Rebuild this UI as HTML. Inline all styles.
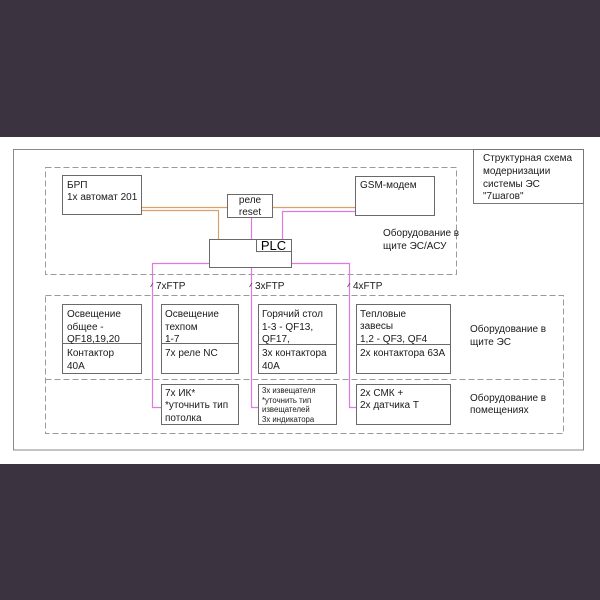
<!DOCTYPE html>
<html><head><meta charset="utf-8"><style>
html,body{margin:0;padding:0;background:#3b3340;}
svg{display:block;}
text{font-family:"Liberation Sans",Arial,sans-serif;fill:#1a1a1a;font-size:10px;}
.s{font-size:7.8px;}
</style></head><body>
<svg width="600" height="600" viewBox="0 0 600 600" xmlns="http://www.w3.org/2000/svg">
<rect x="0" y="0" width="600" height="600" fill="#3b3340"/>
<rect x="0" y="137" width="600" height="327" fill="#ffffff"/>
<!-- outer frame -->
<rect x="13.5" y="149.5" width="570" height="300.5" fill="none" stroke="#8a8a8a" stroke-width="1"/>
<rect x="473.5" y="149.5" width="110" height="54" fill="none" stroke="#777" stroke-width="1"/>
<!-- dashed regions -->
<g fill="none" stroke="#9a9a9a" stroke-width="1" stroke-dasharray="6,3">
<rect x="45.5" y="167.5" width="411" height="107"/>
<rect x="45.5" y="295.5" width="518" height="138"/>
<line x1="45.5" y1="379.5" x2="563.5" y2="379.5"/>
</g>
<!-- connectors orange -->
<g fill="none" stroke="#d9a06a" stroke-width="1.2">
<line x1="142" y1="207.5" x2="227" y2="207.5"/>
<polyline points="142,210.5 218.5,210.5 218.5,239"/>
<line x1="272" y1="207.5" x2="355" y2="207.5"/>
</g>
<!-- connectors pink -->
<g fill="none" stroke="#e07ae0" stroke-width="1.2">
<line x1="251.5" y1="217" x2="251.5" y2="239"/>
<polyline points="355,211.5 282.5,211.5 282.5,239"/>
<polyline points="209,263.5 152.5,263.5 152.5,407.5 161,407.5"/>
<polyline points="251.5,267 251.5,407.5 258,407.5"/>
<polyline points="291,263.5 349.5,263.5 349.5,407.5 356,407.5"/>
</g>
<!-- ticks -->
<g stroke="#555" stroke-width="0.8">
<line x1="150.5" y1="287" x2="153" y2="283"/>
<line x1="249.5" y1="287" x2="252" y2="283"/>
<line x1="347.5" y1="287" x2="350" y2="283"/>
</g>
<!-- boxes -->
<g fill="#fff" stroke="#6a6a6a" stroke-width="1">
<rect x="62.5" y="175.5" width="79" height="39"/>
<rect x="355.5" y="176.5" width="79" height="39"/>
<rect x="227.5" y="194.5" width="45" height="23"/>
<rect x="209.5" y="239.5" width="82" height="28"/>
<rect x="256.5" y="239.5" width="35" height="12"/>
<rect x="62.5" y="304.5" width="79" height="69"/>
<rect x="161.5" y="304.5" width="77" height="69"/>
<rect x="258.5" y="304.5" width="78" height="69"/>
<rect x="356.5" y="304.5" width="94" height="69"/>
<rect x="161.5" y="384.5" width="77" height="40"/>
<rect x="258.5" y="384.5" width="78" height="40"/>
<rect x="356.5" y="384.5" width="94" height="40"/>
</g>
<g stroke="#6a6a6a" stroke-width="1">
<line x1="62.5" y1="343.5" x2="141.5" y2="343.5"/>
<line x1="161.5" y1="343.5" x2="238.5" y2="343.5"/>
<line x1="258.5" y1="344.5" x2="336.5" y2="344.5"/>
<line x1="356.5" y1="344.5" x2="450.5" y2="344.5"/>
</g>
<!-- text -->
<text x="483" y="161">Структурная схема</text>
<text x="483" y="174">модернизации</text>
<text x="483" y="187">системы ЭС</text>
<text x="483" y="199">"7шагов"</text>

<text x="67" y="188">БРП</text>
<text x="67" y="200">1x автомат 201</text>
<text x="360" y="188">GSM-модем</text>
<text x="250" y="203" text-anchor="middle">реле</text>
<text x="250" y="215" text-anchor="middle">reset</text>
<text x="273.5" y="250" text-anchor="middle" style="font-size:13px;fill:#000">PLC</text>
<text x="383" y="236">Оборудование в</text>
<text x="383" y="249">щите ЭС/АСУ</text>

<text x="156" y="289">7xFTP</text>
<text x="255" y="289">3xFTP</text>
<text x="353" y="289">4xFTP</text>

<text x="67" y="317">Освещение</text>
<text x="67" y="330">общее -</text>
<text x="67" y="342">QF18,19,20</text>
<text x="67" y="356">Контактор</text>
<text x="67" y="369">40A</text>

<text x="165" y="317">Освещение</text>
<text x="165" y="330">техпом</text>
<text x="165" y="342">1-7</text>
<text x="165" y="356">7x реле NC</text>

<text x="262" y="317">Горячий стол</text>
<text x="262" y="330">1-3 - QF13,</text>
<text x="262" y="342">QF17,</text>
<text x="262" y="356">3x контактора</text>
<text x="262" y="369">40A</text>

<text x="360" y="317">Тепловые</text>
<text x="360" y="329">завесы</text>
<text x="360" y="342">1,2 - QF3, QF4</text>
<text x="360" y="356">2x контактора 63A</text>

<text x="470" y="332">Оборудование в</text>
<text x="470" y="345">щите ЭС</text>

<text x="165" y="396">7x ИК*</text>
<text x="165" y="408">*уточнить тип</text>
<text x="165" y="421">потолка</text>

<text class="s" x="262" y="393">3x извещателя</text>
<text class="s" x="262" y="403">*уточнить тип</text>
<text class="s" x="262" y="412">извещателей</text>
<text class="s" x="262" y="422">3x индикатора</text>

<text x="360" y="396">2x СМК +</text>
<text x="360" y="408">2x датчика Т</text>

<text x="470" y="401">Оборудование в</text>
<text x="470" y="413">помещениях</text>
</svg>
</body></html>
